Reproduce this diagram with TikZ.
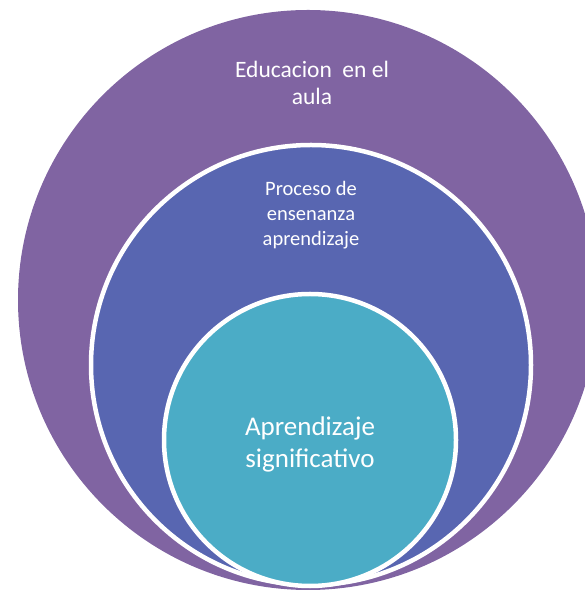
\documentclass[tikz,border=0pt]{standalone}
\usepackage{fontspec}
\setmainfont{Carlito}
\usepackage{tikz}
\definecolor{aulacol}{HTML}{8064A2}
\definecolor{procol}{HTML}{5866B1}
\definecolor{sigcol}{HTML}{4BACC6}
\tikzstyle{disc}=[draw=white,line width=4.5]
\tikzstyle{txt}=[white,align=center,inner sep=0]

\begin{document}
\begin{tikzpicture}[x=1pt,y=1pt]
  \def\cx{310}  % common centre x
  \useasboundingbox (0,0) rectangle (585,591);
  \clip (0,0) rectangle (585,591);

  % CIRCLES
  \fill[aulacol] (\cx-2,291) circle (290);
  \filldraw[disc,fill=procol] (\cx+1,226) circle (220);
  \filldraw[disc,fill=sigcol] (\cx,151) circle (146);

  % TEXTS
  \node[txt,font=\fontsize{23.5}{27}\selectfont] (aula) at (\cx+2,508) {Educacion\ \ en el\\aula};
  \node[txt,font=\fontsize{20.5}{25}\selectfont] (proceso) at (\cx+1,376) {Proceso de\\ensenanza\\aprendizaje};
  \node[txt,font=\fontsize{27}{32}\selectfont] (signif) at (\cx,147) {Aprendizaje\\significativo};
\end{tikzpicture}
\end{document}
